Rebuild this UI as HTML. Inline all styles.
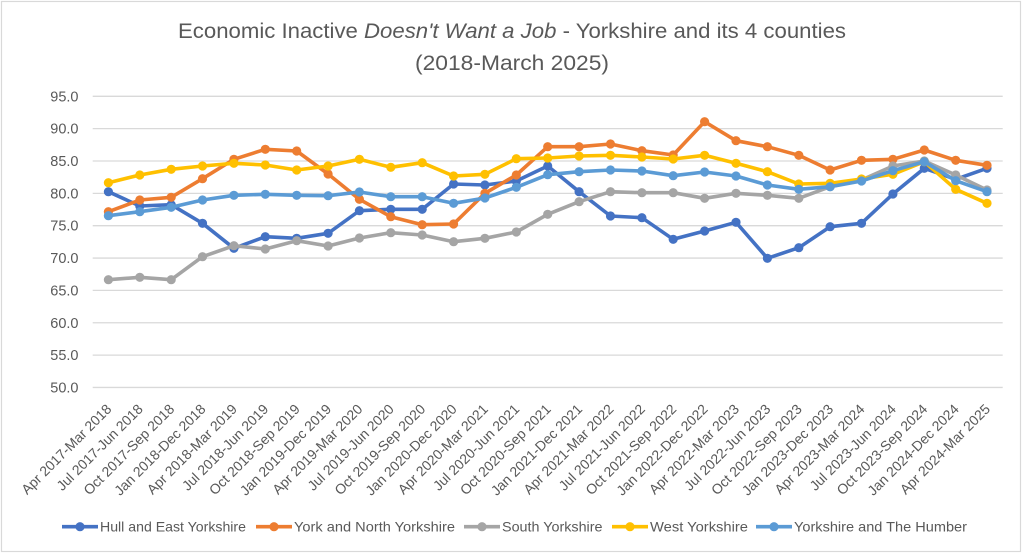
<!DOCTYPE html>
<html><head><meta charset="utf-8"><style>
html,body{margin:0;padding:0;background:#fff;}
svg{display:block;font-family:"Liberation Sans",Arial,sans-serif;}
</style></head><body>
<svg width="1024" height="554" viewBox="0 0 1024 554" xmlns="http://www.w3.org/2000/svg">
<rect x="0" y="0" width="1024" height="554" fill="#fff"/>
<rect x="1.5" y="1.5" width="1019" height="550" fill="none" stroke="#d9d9d9" stroke-width="1.2"/>
<text x="512" y="38" text-anchor="middle" font-size="21" fill="#595959" textLength="668" lengthAdjust="spacingAndGlyphs">Economic Inactive <tspan font-style="italic">Doesn't Want a Job</tspan> - Yorkshire and its 4 counties</text>
<text x="512" y="70" text-anchor="middle" font-size="21" fill="#595959" textLength="194" lengthAdjust="spacingAndGlyphs">(2018-March 2025)</text>
<g stroke="#d9d9d9" stroke-width="1.3">
<line x1="92.7" x2="1002.7" y1="96.3" y2="96.3"/>
<line x1="92.7" x2="1002.7" y1="128.65" y2="128.65"/>
<line x1="92.7" x2="1002.7" y1="161" y2="161"/>
<line x1="92.7" x2="1002.7" y1="193.35" y2="193.35"/>
<line x1="92.7" x2="1002.7" y1="225.7" y2="225.7"/>
<line x1="92.7" x2="1002.7" y1="258.05" y2="258.05"/>
<line x1="92.7" x2="1002.7" y1="290.4" y2="290.4"/>
<line x1="92.7" x2="1002.7" y1="322.75" y2="322.75"/>
<line x1="92.7" x2="1002.7" y1="355.1" y2="355.1"/>
<line x1="92.7" x2="1002.7" y1="387.45" y2="387.45"/>
</g>
<g font-size="14.5" fill="#595959" text-anchor="end">
<text x="78.5" y="101.3">95.0</text>
<text x="78.5" y="133.65">90.0</text>
<text x="78.5" y="166">85.0</text>
<text x="78.5" y="198.35">80.0</text>
<text x="78.5" y="230.7">75.0</text>
<text x="78.5" y="263.05">70.0</text>
<text x="78.5" y="295.4">65.0</text>
<text x="78.5" y="327.75">60.0</text>
<text x="78.5" y="360.1">55.0</text>
<text x="78.5" y="392.45">50.0</text>
</g>
<g font-size="14" fill="#595959" text-anchor="end">
<text transform="translate(112.4,410) rotate(-45)">Apr 2017-Mar 2018</text>
<text transform="translate(143.8,410) rotate(-45)">Jul 2017-Jun 2018</text>
<text transform="translate(175.2,410) rotate(-45)">Oct 2017-Sep 2018</text>
<text transform="translate(206.5,410) rotate(-45)">Jan 2018-Dec 2018</text>
<text transform="translate(237.9,410) rotate(-45)">Apr 2018-Mar 2019</text>
<text transform="translate(269.3,410) rotate(-45)">Jul 2018-Jun 2019</text>
<text transform="translate(300.7,410) rotate(-45)">Oct 2018-Sep 2019</text>
<text transform="translate(332.1,410) rotate(-45)">Jan 2019-Dec 2019</text>
<text transform="translate(363.4,410) rotate(-45)">Apr 2019-Mar 2020</text>
<text transform="translate(394.8,410) rotate(-45)">Jul 2019-Jun 2020</text>
<text transform="translate(426.2,410) rotate(-45)">Oct 2019-Sep 2020</text>
<text transform="translate(457.6,410) rotate(-45)">Jan 2020-Dec 2020</text>
<text transform="translate(488.9,410) rotate(-45)">Apr 2020-Mar 2021</text>
<text transform="translate(520.3,410) rotate(-45)">Jul 2020-Jun 2021</text>
<text transform="translate(551.7,410) rotate(-45)">Oct 2020-Sep 2021</text>
<text transform="translate(583.1,410) rotate(-45)">Jan 2021-Dec 2021</text>
<text transform="translate(614.5,410) rotate(-45)">Apr 2021-Mar 2022</text>
<text transform="translate(645.9,410) rotate(-45)">Jul 2021-Jun 2022</text>
<text transform="translate(677.2,410) rotate(-45)">Oct 2021-Sep 2022</text>
<text transform="translate(708.6,410) rotate(-45)">Jan 2022-Dec 2022</text>
<text transform="translate(740,410) rotate(-45)">Apr 2022-Mar 2023</text>
<text transform="translate(771.4,410) rotate(-45)">Jul 2022-Jun 2023</text>
<text transform="translate(802.8,410) rotate(-45)">Oct 2022-Sep 2023</text>
<text transform="translate(834.1,410) rotate(-45)">Jan 2023-Dec 2023</text>
<text transform="translate(865.5,410) rotate(-45)">Apr 2023-Mar 2024</text>
<text transform="translate(896.9,410) rotate(-45)">Jul 2023-Jun 2024</text>
<text transform="translate(928.3,410) rotate(-45)">Oct 2023-Sep 2024</text>
<text transform="translate(959.7,410) rotate(-45)">Jan 2024-Dec 2024</text>
<text transform="translate(991,410) rotate(-45)">Apr 2024-Mar 2025</text>
</g>

<!-- Hull and East Yorkshire -->
<g fill="#4472C4" stroke="none">
<polyline fill="none" stroke="#4472C4" stroke-width="3.6" stroke-linejoin="round" points="108.4,191.7 139.8,206 171.2,204.7 202.5,223.3 233.9,248.3 265.3,236.7 296.7,238.3 328.1,233.3 359.4,210.7 390.8,209.3 422.2,209.3 453.6,184 484.9,185 516.3,181 547.7,166 579.1,191.7 610.5,216 641.9,217.7 673.2,239.3 704.6,231 736,222.3 767.4,258.3 798.8,247.7 830.1,226.7 861.5,223.3 892.9,194 924.3,168.3 955.7,179.3 987,168.3"/>
<circle cx="108.4" cy="191.7" r="4.6"/><circle cx="139.8" cy="206" r="4.6"/><circle cx="171.2" cy="204.7" r="4.6"/><circle cx="202.5" cy="223.3" r="4.6"/><circle cx="233.9" cy="248.3" r="4.6"/><circle cx="265.3" cy="236.7" r="4.6"/><circle cx="296.7" cy="238.3" r="4.6"/><circle cx="328.1" cy="233.3" r="4.6"/><circle cx="359.4" cy="210.7" r="4.6"/><circle cx="390.8" cy="209.3" r="4.6"/><circle cx="422.2" cy="209.3" r="4.6"/><circle cx="453.6" cy="184" r="4.6"/><circle cx="484.9" cy="185" r="4.6"/><circle cx="516.3" cy="181" r="4.6"/><circle cx="547.7" cy="166" r="4.6"/><circle cx="579.1" cy="191.7" r="4.6"/><circle cx="610.5" cy="216" r="4.6"/><circle cx="641.9" cy="217.7" r="4.6"/><circle cx="673.2" cy="239.3" r="4.6"/><circle cx="704.6" cy="231" r="4.6"/><circle cx="736" cy="222.3" r="4.6"/><circle cx="767.4" cy="258.3" r="4.6"/><circle cx="798.8" cy="247.7" r="4.6"/><circle cx="830.1" cy="226.7" r="4.6"/><circle cx="861.5" cy="223.3" r="4.6"/><circle cx="892.9" cy="194" r="4.6"/><circle cx="924.3" cy="168.3" r="4.6"/><circle cx="955.7" cy="179.3" r="4.6"/><circle cx="987" cy="168.3" r="4.6"/>
</g>

<!-- York and North Yorkshire -->
<g fill="#ED7D31" stroke="none">
<polyline fill="none" stroke="#ED7D31" stroke-width="3.6" stroke-linejoin="round" points="108.4,211.7 139.8,200 171.2,197.3 202.5,178.7 233.9,159.3 265.3,149.3 296.7,151 328.1,174 359.4,199.3 390.8,216.7 422.2,224.7 453.6,224 484.9,193.3 516.3,175 547.7,146.7 579.1,146.7 610.5,144 641.9,150.7 673.2,155 704.6,121.7 736,140.7 767.4,146.7 798.8,155.3 830.1,170 861.5,160.3 892.9,159.3 924.3,150 955.7,160.3 987,165.3"/>
<circle cx="108.4" cy="211.7" r="4.6"/><circle cx="139.8" cy="200" r="4.6"/><circle cx="171.2" cy="197.3" r="4.6"/><circle cx="202.5" cy="178.7" r="4.6"/><circle cx="233.9" cy="159.3" r="4.6"/><circle cx="265.3" cy="149.3" r="4.6"/><circle cx="296.7" cy="151" r="4.6"/><circle cx="328.1" cy="174" r="4.6"/><circle cx="359.4" cy="199.3" r="4.6"/><circle cx="390.8" cy="216.7" r="4.6"/><circle cx="422.2" cy="224.7" r="4.6"/><circle cx="453.6" cy="224" r="4.6"/><circle cx="484.9" cy="193.3" r="4.6"/><circle cx="516.3" cy="175" r="4.6"/><circle cx="547.7" cy="146.7" r="4.6"/><circle cx="579.1" cy="146.7" r="4.6"/><circle cx="610.5" cy="144" r="4.6"/><circle cx="641.9" cy="150.7" r="4.6"/><circle cx="673.2" cy="155" r="4.6"/><circle cx="704.6" cy="121.7" r="4.6"/><circle cx="736" cy="140.7" r="4.6"/><circle cx="767.4" cy="146.7" r="4.6"/><circle cx="798.8" cy="155.3" r="4.6"/><circle cx="830.1" cy="170" r="4.6"/><circle cx="861.5" cy="160.3" r="4.6"/><circle cx="892.9" cy="159.3" r="4.6"/><circle cx="924.3" cy="150" r="4.6"/><circle cx="955.7" cy="160.3" r="4.6"/><circle cx="987" cy="165.3" r="4.6"/>
</g>

<!-- South Yorkshire -->
<g fill="#A5A5A5" stroke="none">
<polyline fill="none" stroke="#A5A5A5" stroke-width="3.6" stroke-linejoin="round" points="108.4,279.7 139.8,277.3 171.2,279.7 202.5,256.7 233.9,245.7 265.3,249 296.7,240.7 328.1,246 359.4,238 390.8,232.7 422.2,235 453.6,241.7 484.9,238.3 516.3,232 547.7,214.3 579.1,201.7 610.5,191.7 641.9,192.7 673.2,192.7 704.6,198.3 736,193.3 767.4,195.3 798.8,198.3 830.1,186.7 861.5,180 892.9,166 924.3,161 955.7,175 987,190"/>
<circle cx="108.4" cy="279.7" r="4.6"/><circle cx="139.8" cy="277.3" r="4.6"/><circle cx="171.2" cy="279.7" r="4.6"/><circle cx="202.5" cy="256.7" r="4.6"/><circle cx="233.9" cy="245.7" r="4.6"/><circle cx="265.3" cy="249" r="4.6"/><circle cx="296.7" cy="240.7" r="4.6"/><circle cx="328.1" cy="246" r="4.6"/><circle cx="359.4" cy="238" r="4.6"/><circle cx="390.8" cy="232.7" r="4.6"/><circle cx="422.2" cy="235" r="4.6"/><circle cx="453.6" cy="241.7" r="4.6"/><circle cx="484.9" cy="238.3" r="4.6"/><circle cx="516.3" cy="232" r="4.6"/><circle cx="547.7" cy="214.3" r="4.6"/><circle cx="579.1" cy="201.7" r="4.6"/><circle cx="610.5" cy="191.7" r="4.6"/><circle cx="641.9" cy="192.7" r="4.6"/><circle cx="673.2" cy="192.7" r="4.6"/><circle cx="704.6" cy="198.3" r="4.6"/><circle cx="736" cy="193.3" r="4.6"/><circle cx="767.4" cy="195.3" r="4.6"/><circle cx="798.8" cy="198.3" r="4.6"/><circle cx="830.1" cy="186.7" r="4.6"/><circle cx="861.5" cy="180" r="4.6"/><circle cx="892.9" cy="166" r="4.6"/><circle cx="924.3" cy="161" r="4.6"/><circle cx="955.7" cy="175" r="4.6"/><circle cx="987" cy="190" r="4.6"/>
</g>

<!-- West Yorkshire -->
<g fill="#FFC000" stroke="none">
<polyline fill="none" stroke="#FFC000" stroke-width="3.6" stroke-linejoin="round" points="108.4,182.7 139.8,175 171.2,169.3 202.5,166 233.9,163.3 265.3,165 296.7,170 328.1,166 359.4,159.3 390.8,167.3 422.2,162.7 453.6,176 484.9,174.3 516.3,158.7 547.7,158 579.1,156 610.5,155.3 641.9,157 673.2,159 704.6,155.3 736,163.3 767.4,171.7 798.8,184 830.1,183.3 861.5,179 892.9,174.3 924.3,161.7 955.7,189.3 987,203.3"/>
<circle cx="108.4" cy="182.7" r="4.6"/><circle cx="139.8" cy="175" r="4.6"/><circle cx="171.2" cy="169.3" r="4.6"/><circle cx="202.5" cy="166" r="4.6"/><circle cx="233.9" cy="163.3" r="4.6"/><circle cx="265.3" cy="165" r="4.6"/><circle cx="296.7" cy="170" r="4.6"/><circle cx="328.1" cy="166" r="4.6"/><circle cx="359.4" cy="159.3" r="4.6"/><circle cx="390.8" cy="167.3" r="4.6"/><circle cx="422.2" cy="162.7" r="4.6"/><circle cx="453.6" cy="176" r="4.6"/><circle cx="484.9" cy="174.3" r="4.6"/><circle cx="516.3" cy="158.7" r="4.6"/><circle cx="547.7" cy="158" r="4.6"/><circle cx="579.1" cy="156" r="4.6"/><circle cx="610.5" cy="155.3" r="4.6"/><circle cx="641.9" cy="157" r="4.6"/><circle cx="673.2" cy="159" r="4.6"/><circle cx="704.6" cy="155.3" r="4.6"/><circle cx="736" cy="163.3" r="4.6"/><circle cx="767.4" cy="171.7" r="4.6"/><circle cx="798.8" cy="184" r="4.6"/><circle cx="830.1" cy="183.3" r="4.6"/><circle cx="861.5" cy="179" r="4.6"/><circle cx="892.9" cy="174.3" r="4.6"/><circle cx="924.3" cy="161.7" r="4.6"/><circle cx="955.7" cy="189.3" r="4.6"/><circle cx="987" cy="203.3" r="4.6"/>
</g>

<!-- Yorkshire and The Humber -->
<g fill="#5B9BD5" stroke="none">
<polyline fill="none" stroke="#5B9BD5" stroke-width="3.6" stroke-linejoin="round" points="108.4,215.7 139.8,211.7 171.2,207.3 202.5,200 233.9,195.3 265.3,194.3 296.7,195.3 328.1,195.7 359.4,192 390.8,196.7 422.2,196.7 453.6,203.3 484.9,198 516.3,187.3 547.7,174.7 579.1,171.7 610.5,170 641.9,171 673.2,175.7 704.6,172 736,176 767.4,185 798.8,189.3 830.1,186.7 861.5,181 892.9,170.7 924.3,161.7 955.7,180.7 987,191.7"/>
<circle cx="108.4" cy="215.7" r="4.6"/><circle cx="139.8" cy="211.7" r="4.6"/><circle cx="171.2" cy="207.3" r="4.6"/><circle cx="202.5" cy="200" r="4.6"/><circle cx="233.9" cy="195.3" r="4.6"/><circle cx="265.3" cy="194.3" r="4.6"/><circle cx="296.7" cy="195.3" r="4.6"/><circle cx="328.1" cy="195.7" r="4.6"/><circle cx="359.4" cy="192" r="4.6"/><circle cx="390.8" cy="196.7" r="4.6"/><circle cx="422.2" cy="196.7" r="4.6"/><circle cx="453.6" cy="203.3" r="4.6"/><circle cx="484.9" cy="198" r="4.6"/><circle cx="516.3" cy="187.3" r="4.6"/><circle cx="547.7" cy="174.7" r="4.6"/><circle cx="579.1" cy="171.7" r="4.6"/><circle cx="610.5" cy="170" r="4.6"/><circle cx="641.9" cy="171" r="4.6"/><circle cx="673.2" cy="175.7" r="4.6"/><circle cx="704.6" cy="172" r="4.6"/><circle cx="736" cy="176" r="4.6"/><circle cx="767.4" cy="185" r="4.6"/><circle cx="798.8" cy="189.3" r="4.6"/><circle cx="830.1" cy="186.7" r="4.6"/><circle cx="861.5" cy="181" r="4.6"/><circle cx="892.9" cy="170.7" r="4.6"/><circle cx="924.3" cy="161.7" r="4.6"/><circle cx="955.7" cy="180.7" r="4.6"/><circle cx="987" cy="191.7" r="4.6"/>
</g>

<!-- Legend -->
<g font-size="14" fill="#595959">
<line x1="62" y1="526.7" x2="98" y2="526.7" stroke="#4472C4" stroke-width="3.6"/><circle cx="80" cy="526.7" r="4.6" fill="#4472C4"/>
<text x="100" y="531.7" textLength="146" lengthAdjust="spacingAndGlyphs">Hull and East Yorkshire</text>
<line x1="256" y1="526.7" x2="292" y2="526.7" stroke="#ED7D31" stroke-width="3.6"/><circle cx="274" cy="526.7" r="4.6" fill="#ED7D31"/>
<text x="294" y="531.7" textLength="161" lengthAdjust="spacingAndGlyphs">York and North Yorkshire</text>
<line x1="464" y1="526.7" x2="500" y2="526.7" stroke="#A5A5A5" stroke-width="3.6"/><circle cx="482" cy="526.7" r="4.6" fill="#A5A5A5"/>
<text x="502" y="531.7" textLength="100.5" lengthAdjust="spacingAndGlyphs">South Yorkshire</text>
<line x1="612" y1="526.7" x2="648" y2="526.7" stroke="#FFC000" stroke-width="3.6"/><circle cx="630" cy="526.7" r="4.6" fill="#FFC000"/>
<text x="650" y="531.7" textLength="98" lengthAdjust="spacingAndGlyphs">West Yorkshire</text>
<line x1="756" y1="526.7" x2="792" y2="526.7" stroke="#5B9BD5" stroke-width="3.6"/><circle cx="774" cy="526.7" r="4.6" fill="#5B9BD5"/>
<text x="794" y="531.7" textLength="173" lengthAdjust="spacingAndGlyphs">Yorkshire and The Humber</text>
</g>
</svg>
</body></html>
